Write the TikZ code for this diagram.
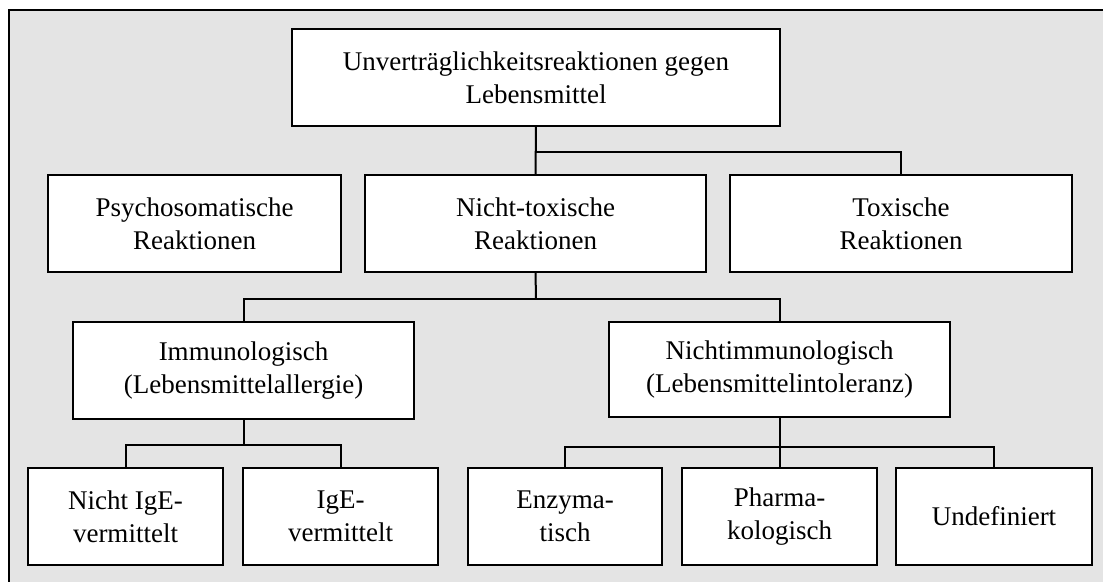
\documentclass[tikz,border=0pt]{standalone}
\usepackage{fontspec}
\setmainfont{Liberation Serif}
\begin{document}
\begin{tikzpicture}[x=1pt,y=-1pt,
  box/.style={draw=black,fill=white,line width=2pt,inner sep=0pt,outer sep=0pt,
    align=center,font=\fontsize{27}{33}\selectfont,minimum height=97pt},
  conn/.style={draw=black,line width=2pt}]
\useasboundingbox (0,0) rectangle (1103,581);
\draw[line width=2pt,fill={rgb,255:red,228;green,228;blue,228}] (9,10) rectangle (1112,592);
\node[box,minimum width=488pt] (top) at (536,77.5) {Unverträglichkeitsreaktionen gegen\\Lebensmittel};
\node[box,minimum width=293pt] (psy) at (194.5,223.5) {Psychosomatische\\Reaktionen};
\node[box,minimum width=341pt] (nt) at (535.5,223.5) {Nicht-toxische\\Reaktionen};
\node[box,minimum width=342pt] (tox) at (901,223.5) {Toxische\\Reaktionen};
\node[box,minimum width=341pt] (imm) at (243.5,370.5) {Immunologisch\\(Lebensmittelallergie)};
\node[box,minimum width=341pt,minimum height=95pt] (nim) at (779.5,369.5) {Nichtimmunologisch\\(Lebensmittelintoleranz)};
\node[box,minimum width=195pt] (nige) at (125.5,516.5) {Nicht IgE-\\vermittelt};
\node[box,minimum width=195pt] (ige) at (340.5,516.5) {IgE-\\vermittelt};
\node[box,minimum width=194pt] (enz) at (565,516.5) {Enzyma-\\tisch};
\node[box,minimum width=195pt] (pha) at (779.5,516.5) {Pharma-\\kologisch};
\node[box,minimum width=196pt] (und) at (994,516.5) {Undefiniert};
\coordinate (j0) at (536,152);
\coordinate (j1) at (536,299);
\coordinate (j2) at (243.5,445);
\coordinate (j3) at (779.5,447);
\draw[conn] (top.south) -- (nt.north);
\draw[conn] (j0) -| (tox.north);
\draw[conn] (nt.south) -- (j1);
\draw[conn] (imm.north) |- (j1) -| (nim.north);
\draw[conn] (imm.south) -- (j2);
\draw[conn] (nige.north) |- (j2) -| (ige.north);
\draw[conn] (nim.south) -- (pha.north);
\draw[conn] (enz.north) |- (j3) -| (und.north);
\end{tikzpicture}
\end{document}
